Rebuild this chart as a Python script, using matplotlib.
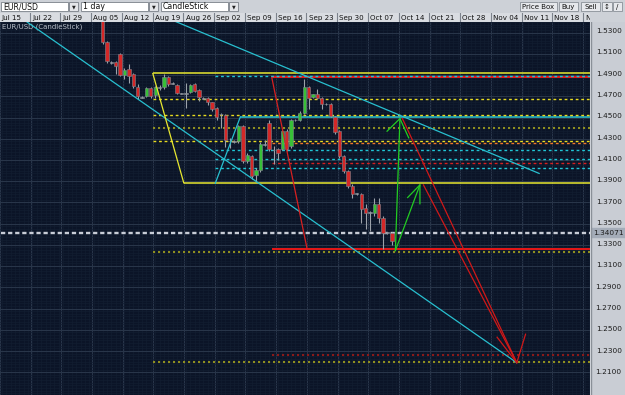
import matplotlib
matplotlib.use('Agg')
import matplotlib.pyplot as plt
import matplotlib.patches as mpatches
import numpy as np

# ---- EUR/USD daily candles (first visible bar = day 0) ----
opens  = [1.5540, 1.5216, 1.5020, 1.5019, 1.5094, 1.4897, 1.4953, 1.4906, 1.4784, 1.4693,
          1.4700, 1.4775, 1.4709, 1.4786, 1.4784, 1.4878, 1.4824, 1.4803, 1.4730, 1.4730,
          1.4737, 1.4812, 1.4756, 1.4683, 1.4681, 1.4643, 1.4587, 1.4533, 1.4521, 1.4280,
          1.4278, 1.4278, 1.4418, 1.4090, 1.4137, 1.3959, 1.4006, 1.4250, 1.4446, 1.4195,
          1.4203, 1.4203, 1.4371, 1.4231, 1.4477, 1.4475, 1.4540, 1.4784, 1.4690, 1.4718,
          1.4681, 1.4627, 1.4625, 1.4503, 1.4371, 1.4137, 1.3996, 1.3856, 1.3782, 1.3780,
          1.3649, 1.3604, 1.3602, 1.3687, 1.3555, 1.3417, 1.3415]
highs  = [1.5600, 1.5225, 1.5030, 1.5037, 1.5112, 1.4962, 1.5000, 1.4915, 1.4812, 1.4700,
          1.4784, 1.4790, 1.4800, 1.4803, 1.4906, 1.4887, 1.4830, 1.4812, 1.4735, 1.4822,
          1.4812, 1.4822, 1.4770, 1.4690, 1.4690, 1.4650, 1.4600, 1.4540, 1.4531, 1.4306,
          1.4290, 1.4430, 1.4430, 1.4165, 1.4150, 1.4024, 1.4270, 1.4290, 1.4475, 1.4231,
          1.4212, 1.4380, 1.4390, 1.4490, 1.4485, 1.4560, 1.4859, 1.4800, 1.4725, 1.4765,
          1.4690, 1.4635, 1.4640, 1.4510, 1.4380, 1.4146, 1.4006, 1.3875, 1.3790, 1.3790,
          1.3687, 1.3621, 1.3743, 1.3743, 1.3575, 1.3425, 1.3420]
lows   = [1.5197, 1.5009, 1.5005, 1.4906, 1.4887, 1.4859, 1.4822, 1.4775, 1.4672, 1.4680,
          1.4690, 1.4680, 1.4681, 1.4756, 1.4765, 1.4793, 1.4815, 1.4720, 1.4720, 1.4587,
          1.4728, 1.4737, 1.4660, 1.4672, 1.4615, 1.4560, 1.4475, 1.4400, 1.4221, 1.4212,
          1.4260, 1.4260, 1.4072, 1.4072, 1.3921, 1.3890, 1.3990, 1.4230, 1.4184, 1.4060,
          1.4100, 1.4190, 1.4180, 1.4210, 1.4465, 1.4465, 1.4530, 1.4578, 1.4685, 1.4672,
          1.4578, 1.4615, 1.4503, 1.4340, 1.4118, 1.3977, 1.3837, 1.3743, 1.3770, 1.3508,
          1.3452, 1.3433, 1.3575, 1.3508, 1.3265, 1.3405, 1.3300]
closes = [1.5216, 1.5028, 1.5015, 1.4990, 1.4897, 1.4944, 1.4887, 1.4793, 1.4700, 1.4688,
          1.4775, 1.4700, 1.4784, 1.4782, 1.4878, 1.4812, 1.4820, 1.4728, 1.4726, 1.4726,
          1.4803, 1.4747, 1.4690, 1.4679, 1.4643, 1.4578, 1.4503, 1.4529, 1.4287, 1.4276,
          1.4270, 1.4418, 1.4090, 1.4146, 1.3949, 1.4006, 1.4249, 1.4245, 1.4203, 1.4191,
          1.4165, 1.4371, 1.4203, 1.4475, 1.4473, 1.4540, 1.4784, 1.4681, 1.4718, 1.4681,
          1.4625, 1.4623, 1.4512, 1.4362, 1.4137, 1.3996, 1.3856, 1.3780, 1.3778, 1.3640,
          1.3602, 1.3600, 1.3687, 1.3555, 1.3415, 1.3413, 1.3340]
last_price = 1.34071

week_labels = ['Jul 15', 'Jul 22', 'Jul 29', 'Aug 05', 'Aug 12', 'Aug 19', 'Aug 26',
               'Sep 02', 'Sep 09', 'Sep 16', 'Sep 23', 'Sep 30', 'Oct 07', 'Oct 14',
               'Oct 21', 'Oct 28', 'Nov 04', 'Nov 11', 'Nov 18', 'N']
first_week_day = -23.4          # day index of the Jul 15 separator
price_labels = [1.53, 1.51, 1.49, 1.47, 1.45, 1.43, 1.41, 1.39, 1.37, 1.35,
                1.33, 1.31, 1.29, 1.27, 1.25, 1.23, 1.21]

# ---- drawn analysis objects (day index, price) ----
cyan_trend_low_x,  cyan_trend_low_y  = [-20.6, 94.5], [1.5497, 1.2189]
cyan_trend_high_x, cyan_trend_high_y = [11.3, 99.6], [1.5497, 1.3973]
cyan_leg_x, cyan_leg_y               = [25.7, 31.4], [1.3879, 1.4503]
yellow_leg_x, yellow_leg_y           = [11.46, 18.52], [1.4915, 1.3884]
red_leg_x, red_leg_y                 = [38.6, 46.65], [1.4878, 1.3264]
green_up1_x, green_up1_y   = [66.8, 67.84], [1.3246, 1.4490]
green_head1_x, green_head1_y = [64.9, 67.84, 69.84], [1.4371, 1.4490, 1.4308]
green_up2_x, green_up2_y   = [66.8, 72.4], [1.3246, 1.3865]
green_head2_x, green_head2_y = [69.6, 72.4, 72.4], [1.3746, 1.3865, 1.3687]
red_proj1_x, red_proj1_y   = [68.4, 94.5], [1.4490, 1.2189]
red_proj2_x, red_proj2_y   = [73.2, 94.5], [1.3865, 1.2189]
red_v_x, red_v_y           = [90.0, 94.5, 96.5], [1.2430, 1.2189, 1.2458]

yellow_solid = [1.4918, 1.3881]
yellow_solid_from = [11.46, 18.52]
cyan_solid, cyan_solid_from = 1.4503, 31.4
red_solid = [1.4878, 1.3262]
red_from = 38.6
yellow_dash = [1.4678, 1.4528, 1.4278]
olive_dot = [1.4402, 1.3236, 1.2195]
yellow_from = 11.46
cyan_dash = [1.4894, 1.4191, 1.4112, 1.4021]
cyan_from = 25.6
orange_dash = [1.4262]
red_dash = [1.4068]
darkred_dot = [1.2264]

XMIN, XMAX = -23.17, 111.2
YMIN, YMAX = 1.1885, 1.5384
BG = '#0b1427'
W, H = 625, 395


def box(x0, y0, x1, y1):
    return [x0 / W, 1 - y1 / H, (x1 - x0) / W, (y1 - y0) / H]


fig = plt.figure(figsize=(6.25, 3.95), dpi=100, facecolor='#cdd1d7')
ax = fig.add_axes(box(0, 22, 590, 395))
pax = fig.add_axes(box(591, 22, 625, 395))
hax = fig.add_axes(box(0, 13, 590, 21.5))
tb = fig.add_axes(box(0, 0, 625, 12.5))

# ---- main plot ----
ax.set_facecolor(BG)
ax.set_xlim(XMIN, XMAX)
ax.set_ylim(YMIN, YMAX)
week_pos = [first_week_day + 7 * k for k in range(len(week_labels))]
ax.set_xticks(week_pos)
ax.set_xticks(np.arange(-23, 112, 1), minor=True)
ax.set_yticks(price_labels)
ax.set_yticks(np.arange(1.19, 1.54, 0.0025), minor=True)
ax.grid(which='major', color='#283549', lw=0.8)
ax.grid(which='minor', color='#121d31', lw=0.5)
ax.tick_params(which='both', length=0, labelbottom=False, labelleft=False)
for s in ax.spines.values():
    s.set_visible(False)
ax.set_axisbelow(True)
ax.text(0.003, 0.995, 'EUR/USD (CandleStick)', transform=ax.transAxes,
        fontsize=5, color='#b8bec8', va='top', ha='left')

# horizontal levels
ax.hlines(yellow_solid, yellow_solid_from, XMAX, color='#e8e830', lw=1.1, zorder=2)
ax.hlines(cyan_solid, cyan_solid_from, XMAX, color='#28c8d8', lw=1.1, zorder=2)
ax.hlines(red_solid, red_from, XMAX, color='#e81818', lw=1.4, zorder=2)
for p in yellow_dash:
    ax.plot([yellow_from, XMAX], [p, p], color='#e8dc20', lw=1.0, dashes=(2, 2), zorder=2)
for p in olive_dot:
    ax.plot([yellow_from, XMAX], [p, p], color='#8e8e20', lw=1.5, dashes=(1, 1.4), zorder=2)
for p in cyan_dash:
    ax.plot([cyan_from, XMAX], [p, p], color='#20c4d4', lw=1.0, dashes=(2, 2), zorder=2)
for p in orange_dash:
    ax.plot([red_from, XMAX], [p, p], color='#f07828', lw=1.0, dashes=(2, 2), zorder=2)
for p in red_dash:
    ax.plot([red_from, XMAX], [p, p], color='#d82020', lw=1.0, dashes=(2, 2), zorder=2)
for p in darkred_dot:
    ax.plot([red_from, XMAX], [p, p], color='#8a1a1a', lw=1.5, dashes=(1, 1.4), zorder=2)
ax.plot([XMIN, XMAX], [last_price, last_price], color='#c8ccd6', lw=1.7,
        dashes=(1.8, 1.2), zorder=2)

# candles
x = np.arange(len(opens))
o, h, l, c = map(np.array, (opens, highs, lows, closes))
body_col = np.where(np.abs(c - o) < 0.0008, '#b4b8c0',
                    np.where(c >= o, '#38c038', '#d42828'))
ax.vlines(x, l, h, color='#9ca2aa', lw=0.8, zorder=3)
ax.bar(x, np.maximum(np.abs(c - o), 0.0006), bottom=np.minimum(o, c), width=0.76,
       color=body_col, edgecolor='#80868e', linewidth=0.4, zorder=4)

# trend lines and arrows
ax.plot(cyan_trend_low_x, cyan_trend_low_y, color='#28c0d0', lw=0.9, zorder=5)
ax.plot(cyan_trend_high_x, cyan_trend_high_y, color='#28c0d0', lw=0.9, zorder=5)
ax.plot(cyan_leg_x, cyan_leg_y, color='#28c0d0', lw=0.9, zorder=5)
ax.plot(yellow_leg_x, yellow_leg_y, color='#e8e830', lw=0.9, zorder=5)
ax.plot(red_leg_x, red_leg_y, color='#d82020', lw=0.9, zorder=5)
for xs, ys in [(green_up1_x, green_up1_y), (green_head1_x, green_head1_y),
               (green_up2_x, green_up2_y), (green_head2_x, green_head2_y)]:
    ax.plot(xs, ys, color='#22cc22', lw=0.9, zorder=6)
for xs, ys in [(red_proj1_x, red_proj1_y), (red_proj2_x, red_proj2_y), (red_v_x, red_v_y)]:
    ax.plot(xs, ys, color='#d01818', lw=0.9, zorder=6)

# ---- price axis ----
pax.set_facecolor('#c9cdd4')
pax.set_xlim(0, 1)
pax.set_ylim(YMIN, YMAX)
pax.set_xticks([])
pax.set_yticks([])
for s in pax.spines.values():
    s.set_visible(False)
pax.axvline(0, color='#8a9098', lw=1)
for p in price_labels:
    pax.text(0.52, p, f'{p:.4f}', ha='center', va='center', fontsize=5.3, color='#1c1c1c')
pax.axhspan(last_price - 0.0043, last_price + 0.0043, color='#a4acb8')
pax.text(0.52, last_price, f'{last_price:.5f}', ha='center', va='center',
         fontsize=5.3, color='#1c1c1c')

# ---- date header ----
hax.set_facecolor('#d9dce1')
hax.set_xlim(XMIN, XMAX)
hax.set_ylim(0, 1)
hax.set_xticks([])
hax.set_yticks([])
for s in hax.spines.values():
    s.set_visible(False)
for b, lab in zip(week_pos, week_labels):
    hax.axvline(b, color='#7c828c', lw=0.8)
    hax.text(b + 0.5, 0.45, lab, fontsize=5.1, va='center', ha='left',
             color='#111111', clip_on=True)

# ---- toolbar ----
tb.set_xlim(0, W)
tb.set_ylim(12.5, 0)
tb.axis('off')
for x0, x1, lab in [(1, 68, 'EUR/USD'), (81, 148, '1 day'), (161, 228, 'CandleStick')]:
    tb.add_patch(mpatches.Rectangle((x0, 1.7), x1 - x0, 9.8, fc='white', ec='#7a8088', lw=0.6))
    tb.text(x0 + 2, 6.8, lab, fontsize=5.6, va='center', ha='left', color='#111111')
    tb.add_patch(mpatches.Rectangle((x1 + 1, 1.7), 9, 9.8, fc='#e4e6ea', ec='#7a8088', lw=0.6))
    tb.text(x1 + 5.5, 6.8, '\u25bc', fontsize=3.5, va='center', ha='center', color='#222222')
for x0, x1, lab in [(520, 557, 'Price Box'), (559, 578, 'Buy'), (581, 600, 'Sell'),
                    (602, 612, '\u2195'), (613, 622, '/')]:
    tb.add_patch(mpatches.Rectangle((x0, 1.7), x1 - x0, 9.8, fc='#e6e8ec', ec='#8a9098', lw=0.6))
    tb.text((x0 + x1) / 2, 6.8, lab, fontsize=5, va='center', ha='center', color='#111111')

fig.savefig('out.png', dpi=100, facecolor=fig.get_facecolor())
